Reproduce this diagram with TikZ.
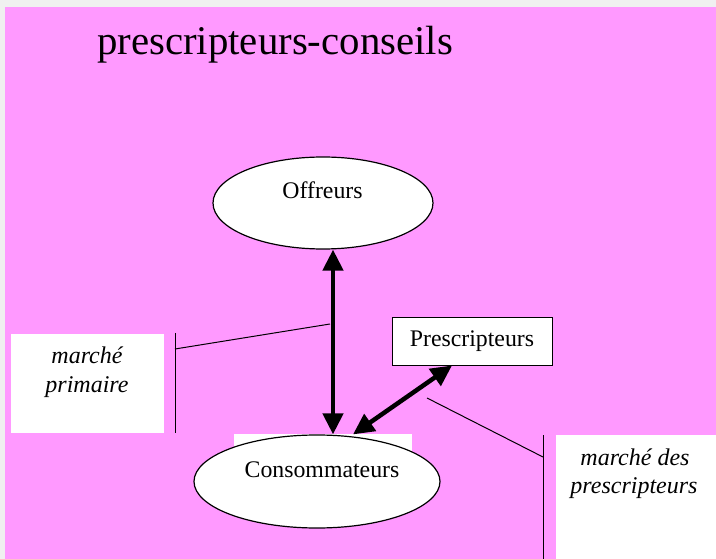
\documentclass[tikz,border=0pt]{standalone}
\usepackage{fontspec}
\setmainfont{Liberation Serif}
\usetikzlibrary{shapes.geometric,arrows.meta,calc}
\definecolor{bgpink}{HTML}{FF99FF}
\definecolor{bggray}{HTML}{F0F0F0}
\tikzset{
  oval/.style={ellipse,draw=black,line width=1.2pt,fill=white,inner sep=0pt},
  pbox/.style={rectangle,draw=black,line width=1pt,fill=white,inner sep=0pt},
  wbox/.style={rectangle,fill=white,inner sep=0pt},
  bigarrow/.style={line width=4.5pt,{Triangle[length=21pt,width=20pt]}-{Triangle[length=21pt,width=20pt]},shorten <=0pt,shorten >=0pt},
  leader/.style={line width=1pt,draw=black},
  lab/.style={font=\fontsize{23.8}{28}\selectfont,inner sep=0pt,anchor=base},
  ilab/.style={font=\fontsize{24}{28}\selectfont\itshape,inner sep=0pt,anchor=base},
}
\begin{document}
\begin{tikzpicture}[x=1pt,y=-1pt]
\useasboundingbox (0,0) rectangle (716,559);
\fill[bggray] (0,0) rectangle (716,559);
\fill[bgpink] (5,7) rectangle (716,559);
% title
\node[font=\fontsize{40.8}{48}\selectfont,inner sep=0pt,anchor=base west] (title) at (97,55) {prescripteurs-conseils};
% white text boxes
\node[wbox,minimum width=153pt,minimum height=99pt] (lbox) at (87.5,383.5) {};
\node[ilab] (l1) at (87,363) {marché};
\node[ilab] (l2) at (87,392) {primaire};
\node[wbox,minimum width=160pt,minimum height=124pt] (rbox) at (636,497) {};
\node[ilab] (r1) at (635,465) {marché des};
\node[ilab] (r2) at (634,493) {prescripteurs};
\node[wbox,minimum width=178pt,minimum height=18pt] (cbox) at (323,443) {};
% ellipses
\node[oval,minimum width=220pt,minimum height=92pt] (off) at (323,203) {};
\node[lab] (offt) at (322.5,199) {Offreurs};
\node[oval,minimum width=246pt,minimum height=93pt] (cons) at (317,481.5) {};
\node[lab] (const) at (322,477) {Consommateurs};
% prescripteurs box
\node[pbox,minimum width=160pt,minimum height=47pt,font=\fontsize{23.8}{28}\selectfont] (presc) at (472,341.5) {Prescripteurs};
% arrows
\draw[bigarrow] ([xshift=10pt]off.south) -- ([xshift=16pt]cons.north);
\draw[bigarrow] ([xshift=-20pt]presc.south) -- ([xshift=36pt]cons.north);
% leader lines
\coordinate (lt) at (330,324);
\coordinate (lj) at (175,349);
\coordinate (lv1) at (175,333);
\coordinate (lv2) at (175,433);
\draw[leader] (lt) -- (lj);
\draw[leader] (lv1) -- (lv2);
\coordinate (rt) at (427,398);
\coordinate (rj) at (543,457);
\coordinate (rv1) at (543,435);
\coordinate (rv2) at (543,559);
\draw[leader] (rt) -- (rj);
\draw[leader] (rv1) -- (rv2);
\end{tikzpicture}
\end{document}
